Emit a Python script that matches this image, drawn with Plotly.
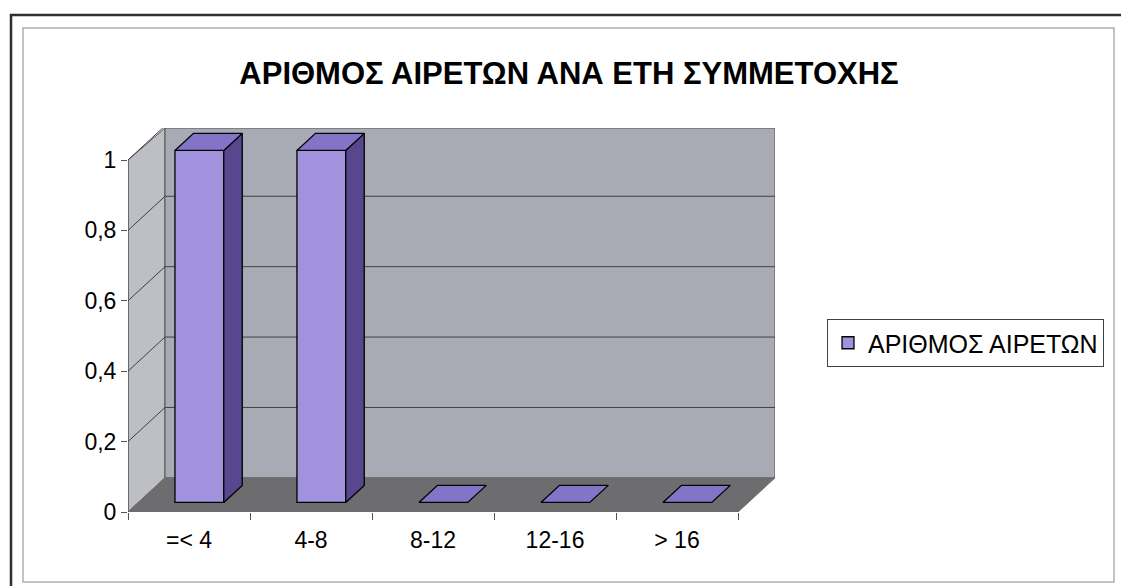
import plotly.graph_objects as go

# ---- data ----
categories = ["=< 4", "4-8", "8-12", "12-16", "> 16"]
values = [1, 1, 0, 0, 0]
series_name = "ΑΡΙΘΜΟΣ ΑΙΡΕΤΩΝ"
title_text = "ΑΡΙΘΜΟΣ ΑΙΡΕΤΩΝ ΑΝΑ ΕΤΗ ΣΥΜΜΕΤΟΧΗΣ"
y_ticks = [0, 0.2, 0.4, 0.6, 0.8, 1]
y_ticklabels = ["0", "0,2", "0,4", "0,6", "0,8", "1"]

# ---- geometry / style ----
W, H = 1121, 586                      # figure size
L, R, T, B = 128, 775, 128, 512       # plot area in screen pixels
n = len(categories)
DX = 37 / 122.0                       # depth offset in category units
DY = 0.097                            # depth offset in value units
YTOP = (B - T) / 352.0
XTOP = n + DX
F = 0.28                              # bar front depth fraction
G = 0.78                              # bar back depth fraction
BW = 0.4                              # bar width

FRONT = "#a092dc"
SIDE = "#58468e"
TOP = "#8474c8"
FONT = "Liberation Sans, Arial, sans-serif"


def px_x(p):
    return (p - L) / (R - L)


def px_y(p):
    return (B - p) / (B - T)


fig = go.Figure()

# front faces of bars
centers = [i + 0.5 for i in range(n)]
fig.add_trace(go.Bar(
    x=[c + F * DX for c in centers], y=values, base=F * DY, width=BW,
    marker=dict(color=FRONT, line=dict(color="black", width=1.3)),
    name=series_name, showlegend=True,
))

# side and top faces
ddx, ddy = (G - F) * DX, (G - F) * DY
for c, v in zip(centers, values):
    x0 = c - BW / 2 + F * DX
    x1 = c + BW / 2 + F * DX
    y0 = F * DY
    y1 = v + F * DY
    if v > 0:
        fig.add_trace(go.Scatter(
            x=[x1, x1 + ddx, x1 + ddx, x1, x1], y=[y0, y0 + ddy, y1 + ddy, y1, y0],
            mode="lines", fill="toself", fillcolor=SIDE,
            line=dict(color="black", width=1.3), showlegend=False, hoverinfo="skip"))
    fig.add_trace(go.Scatter(
        x=[x0, x1, x1 + ddx, x0 + ddx, x0], y=[y1, y1, y1 + ddy, y1 + ddy, y1],
        mode="lines", fill="toself", fillcolor=TOP,
        line=dict(color="black", width=1.3), showlegend=False, hoverinfo="skip"))

shapes = []
# side wall
shapes.append(dict(type="path", xref="x", yref="y", layer="below",
                   path=f"M0,0 L0,1 L{DX},{YTOP} L{DX},{DY} Z",
                   fillcolor="#bebfc5", line=dict(color="#555555", width=1)))
# back wall
shapes.append(dict(type="rect", xref="x", yref="y", layer="below",
                   x0=DX, x1=XTOP, y0=DY, y1=YTOP,
                   fillcolor="#a9abb4", line=dict(color="#555555", width=1)))
# floor
shapes.append(dict(type="path", xref="x", yref="y", layer="below",
                   path=f"M0,0 L{n},0 L{XTOP},{DY} L{DX},{DY} Z",
                   fillcolor="#6d6d6f", line=dict(color="#6d6d6f", width=1)))
# gridlines
for v in y_ticks[1:]:
    shapes.append(dict(type="path", xref="x", yref="y", layer="below",
                       path=f"M0,{v} L{DX},{v + DY} L{XTOP},{v + DY}",
                       line=dict(color="#404040", width=1)))
# y axis line
shapes.append(dict(type="line", xref="x", yref="y", x0=0, x1=0, y0=0, y1=1,
                   line=dict(color="#555555", width=1.2)))
# outer frames
shapes.append(dict(type="rect", xref="paper", yref="paper",
                   x0=px_x(23), x1=px_x(1114), y0=px_y(582), y1=px_y(28),
                   line=dict(color="#b0b0b0", width=1.5), layer="below"))
shapes.append(dict(type="path", xref="paper", yref="paper",
                   path=f"M{px_x(11)},{px_y(600)} L{px_x(11)},{px_y(15)} L{px_x(1130)},{px_y(15)}",
                   line=dict(color="#303030", width=2.5)))

fig.update_layout(
    width=W, height=H,
    margin=dict(l=L, r=W - R, t=T, b=H - B, pad=0),
    paper_bgcolor="white", plot_bgcolor="white",
    separators=",.",
    title=dict(text=f"<b>{title_text}</b>", x=569 / W, xanchor="center",
               y=1 - 73 / H, yanchor="middle", yref="container",
               font=dict(family=FONT, size=31, color="black")),
    xaxis=dict(range=[0, XTOP], tickvals=centers, ticktext=categories,
               ticks="", showgrid=False, zeroline=False, showline=False,
               tickfont=dict(family=FONT, size=23, color="black"),
               ticklabelstandoff=12,
               minor=dict(tickvals=list(range(n + 1)), ticks="outside", ticklen=7,
                          tickcolor="#555555", showgrid=False),
               fixedrange=True),
    yaxis=dict(range=[0, YTOP], tickvals=y_ticks, ticktext=y_ticklabels,
               ticks="outside", ticklen=6, tickcolor="#555555",
               showgrid=False, zeroline=False, showline=False,
               tickfont=dict(family=FONT, size=23, color="black"),
               fixedrange=True),
    legend=dict(x=px_x(827), xanchor="left", y=px_y(343), yanchor="middle",
                bordercolor="#404040", borderwidth=1, bgcolor="white",
                font=dict(family=FONT, size=25, color="black"),
                itemwidth=30),
    shapes=shapes,
    showlegend=True,
)

fig.write_html(
    "out.html",
    config={"displayModeBar": False},
    post_script="document.body.style.margin='0';document.body.style.overflow='hidden';",
)
